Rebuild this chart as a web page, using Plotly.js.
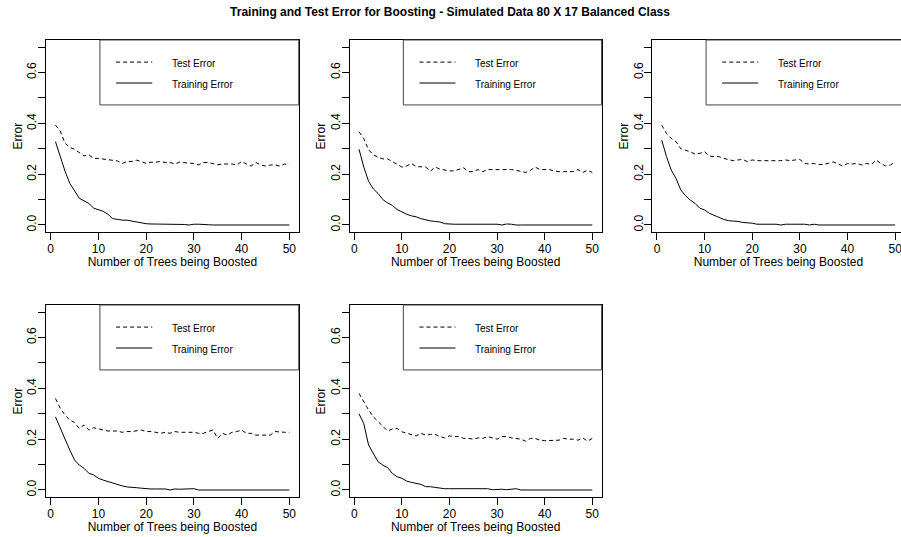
<!DOCTYPE html>
<html><head><meta charset="utf-8">
<script src="https://cdn.plot.ly/plotly-3.0.1.min.js"></script>
<style>html,body{margin:0;padding:0;overflow:hidden;background:#fff}#chart{width:905px;height:537px}</style>
</head><body><div id="chart"></div><script>
const trees = [1,2,3,4,5,6,7,8,9,10,11,12,13,14,15,16,17,18,19,20,21,22,23,24,25,26,27,28,29,30,31,32,33,34,35,36,37,38,39,40,41,42,43,44,45,46,47,48,49,50];

const test1 = [0.393,0.370,0.322,0.305,0.298,0.285,0.272,0.276,0.262,0.262,0.260,0.256,0.255,0.252,0.242,0.250,0.250,0.255,0.250,0.242,0.247,0.247,0.250,0.246,0.246,0.240,0.247,0.246,0.242,0.242,0.237,0.246,0.246,0.240,0.237,0.240,0.240,0.240,0.236,0.250,0.240,0.232,0.246,0.236,0.232,0.236,0.236,0.232,0.240,0.236];
const train1 = [0.328,0.270,0.212,0.164,0.132,0.105,0.095,0.085,0.066,0.060,0.054,0.042,0.025,0.022,0.019,0.019,0.015,0.012,0.010,0.005,0.004,0.004,0.004,0.004,0.003,0.003,0.003,0.002,0.000,0.003,0.003,0.001,0.001,0.000,0.000,0.000,0.000,0.000,0.000,0.000,0.000,0.000,0.000,0.000,0.000,0.000,0.000,0.000,0.000,0.000];

const test2 = [0.367,0.340,0.296,0.276,0.267,0.260,0.260,0.250,0.237,0.228,0.232,0.242,0.230,0.230,0.228,0.212,0.228,0.220,0.215,0.213,0.213,0.218,0.225,0.210,0.210,0.218,0.210,0.218,0.218,0.218,0.218,0.218,0.218,0.215,0.210,0.207,0.215,0.228,0.218,0.218,0.218,0.213,0.210,0.210,0.210,0.210,0.218,0.207,0.215,0.207];
const train2 = [0.298,0.228,0.172,0.142,0.124,0.100,0.087,0.077,0.061,0.051,0.042,0.036,0.032,0.025,0.020,0.016,0.014,0.012,0.005,0.003,0.003,0.003,0.003,0.003,0.003,0.003,0.003,0.003,0.003,0.003,0.000,0.004,0.003,0.000,0.000,0.000,0.000,0.000,0.000,0.000,0.000,0.000,0.000,0.000,0.000,0.000,0.000,0.000,0.000,0.000];

const test3 = [0.393,0.360,0.340,0.328,0.300,0.295,0.288,0.279,0.282,0.288,0.271,0.269,0.269,0.262,0.256,0.253,0.256,0.258,0.249,0.256,0.253,0.253,0.253,0.253,0.251,0.253,0.256,0.253,0.256,0.258,0.242,0.240,0.242,0.238,0.238,0.242,0.248,0.240,0.232,0.242,0.240,0.242,0.236,0.242,0.238,0.256,0.242,0.232,0.236,0.248];
const train3 = [0.334,0.269,0.216,0.183,0.138,0.115,0.098,0.085,0.066,0.059,0.046,0.038,0.029,0.022,0.017,0.016,0.014,0.010,0.009,0.007,0.003,0.003,0.003,0.003,0.003,0.000,0.003,0.003,0.003,0.003,0.003,0.000,0.003,0.000,0.000,0.000,0.000,0.000,0.000,0.000,0.000,0.000,0.000,0.000,0.000,0.000,0.000,0.000,0.000,0.000];

const test4 = [0.360,0.321,0.295,0.275,0.266,0.242,0.256,0.236,0.245,0.240,0.236,0.232,0.232,0.232,0.227,0.230,0.230,0.232,0.236,0.230,0.230,0.227,0.223,0.227,0.223,0.230,0.227,0.227,0.227,0.227,0.223,0.223,0.230,0.236,0.203,0.223,0.216,0.227,0.230,0.236,0.223,0.223,0.216,0.216,0.216,0.216,0.230,0.227,0.227,0.227];
const train4 = [0.288,0.242,0.197,0.157,0.118,0.098,0.085,0.066,0.059,0.046,0.039,0.033,0.026,0.020,0.016,0.012,0.009,0.009,0.007,0.004,0.004,0.004,0.004,0.004,0.000,0.004,0.003,0.003,0.003,0.005,0.000,0.000,0.000,0.000,0.000,0.000,0.000,0.000,0.000,0.000,0.000,0.000,0.000,0.000,0.000,0.000,0.000,0.000,0.000,0.000];

const test5 = [0.380,0.347,0.315,0.288,0.268,0.249,0.232,0.240,0.242,0.229,0.223,0.216,0.213,0.223,0.216,0.219,0.219,0.210,0.205,0.213,0.210,0.210,0.203,0.203,0.200,0.205,0.203,0.210,0.205,0.200,0.210,0.210,0.205,0.203,0.200,0.192,0.203,0.203,0.196,0.194,0.194,0.196,0.196,0.203,0.200,0.200,0.196,0.205,0.192,0.203];
const train5 = [0.300,0.261,0.177,0.144,0.111,0.098,0.088,0.065,0.052,0.046,0.035,0.030,0.025,0.022,0.013,0.013,0.010,0.007,0.005,0.005,0.005,0.005,0.005,0.005,0.003,0.005,0.003,0.005,0.001,0.003,0.003,0.001,0.003,0.005,0.000,0.000,0.000,0.000,0.000,0.000,0.000,0.000,0.000,0.000,0.000,0.000,0.000,0.000,0.000,0.000];

const testSeries = [test1, test2, test3, test4, test5];
const trainSeries = [train1, train2, train3, train4, train5];

const xTickVals = [0,10,20,30,40,50];
const yTickVals = [0,0.1,0.2,0.3,0.4,0.5,0.6,0.7];
const yTickText = ['0.0','','0.2','','0.4','','0.6',''];

const chartTitle = 'Training and Test Error for Boosting - Simulated Data 80 X 17 Balanced Class';
const xTitle = 'Number of Trees being Boosted';
const yTitle = 'Error';
const legendLabels = ['Test Error', 'Training Error'];

const W = 905, H = 537;
const FONT = 'Liberation Sans, Arial, sans-serif';
const panels = [
  {x0:46.1, x1:298.7, y0:40, y1:232.1},
  {x0:349.7, x1:601.6, y0:40, y1:232.1},
  {x0:652.4, x1:904.5, y0:40, y1:232.1},
  {x0:46.1, x1:298.7, y0:305, y1:497.1},
  {x0:349.7, x1:601.6, y0:305, y1:497.1}
];

const data = [];
const layout = {
  width: W, height: H,
  margin: {l:0, r:0, t:0, b:0},
  paper_bgcolor: '#fff', plot_bgcolor: '#fff',
  showlegend: false,
  font: {family: FONT, color: '#000', size: 12},
  title: {text: '<b>' + chartTitle + '</b>', x: 450/W, xanchor: 'center', y: 1 - 12/H, yanchor: 'middle', yref: 'container', font: {family: FONT, size: 12, color: '#000'}},
  shapes: [], annotations: []
};

panels.forEach((p, i) => {
  const s = i === 0 ? '' : String(i + 1);
  const xa = 'x' + s, ya = 'y' + s;
  data.push({x: trees, y: testSeries[i], xaxis: xa, yaxis: ya, mode: 'lines', line: {color: '#000', width: 1, dash: '4px,3px'}, hoverinfo: 'skip'});
  data.push({x: trees, y: trainSeries[i], xaxis: xa, yaxis: ya, mode: 'lines', line: {color: '#000', width: 1}, hoverinfo: 'skip'});
  layout['xaxis' + s] = {
    domain: [p.x0 / W, p.x1 / W], anchor: ya, range: [-0.96, 51.96],
    tickvals: xTickVals, ticks: 'outside', ticklen: 7, tickcolor: '#000', tickwidth: 1, ticklabelstandoff: -2,
    showline: true, mirror: true, linecolor: '#000', linewidth: 1,
    showgrid: false, zeroline: false, tickfont: {size: 12, family: FONT, color: '#000'},
    title: {text: xTitle, font: {size: 12, family: FONT, color: '#000'}, standoff: 1}
  };
  layout['yaxis' + s] = {
    domain: [(H - p.y1) / H, (H - p.y0) / H], anchor: xa, range: [-0.028, 0.728],
    tickvals: yTickVals, ticktext: yTickText, tickangle: -90, ticklabelstandoff: -3,
    ticks: 'outside', ticklen: 7, tickcolor: '#000', tickwidth: 1,
    showline: true, mirror: true, linecolor: '#000', linewidth: 1,
    showgrid: false, zeroline: false, tickfont: {size: 12, family: FONT, color: '#000'},
    title: {text: yTitle, font: {size: 12, family: FONT, color: '#000'}, standoff: 0}
  };
  const xr = xa + ' domain', yr = ya + ' domain';
  layout.shapes.push({type: 'rect', xref: xr, yref: yr, x0: 0.213, x1: 1, y0: 0.662, y1: 1, line: {color: '#444', width: 1}});
  layout.shapes.push({type: 'line', xref: xr, yref: yr, x0: 0.277, x1: 0.42, y0: 0.885, y1: 0.885, line: {color: '#000', width: 1, dash: '4px,3px'}});
  layout.shapes.push({type: 'line', xref: xr, yref: yr, x0: 0.277, x1: 0.42, y0: 0.776, y1: 0.776, line: {color: '#000', width: 1}});
  layout.annotations.push({xref: xr, yref: yr, x: 0.491, y: 0.878, xanchor: 'left', yanchor: 'middle', text: legendLabels[0], showarrow: false, font: {size: 10, family: FONT, color: '#000'}});
  layout.annotations.push({xref: xr, yref: yr, x: 0.491, y: 0.766, xanchor: 'left', yanchor: 'middle', text: legendLabels[1], showarrow: false, font: {size: 10, family: FONT, color: '#000'}});
});

Plotly.newPlot('chart', data, layout, {staticPlot: true, displayModeBar: false});
</script></body></html>
